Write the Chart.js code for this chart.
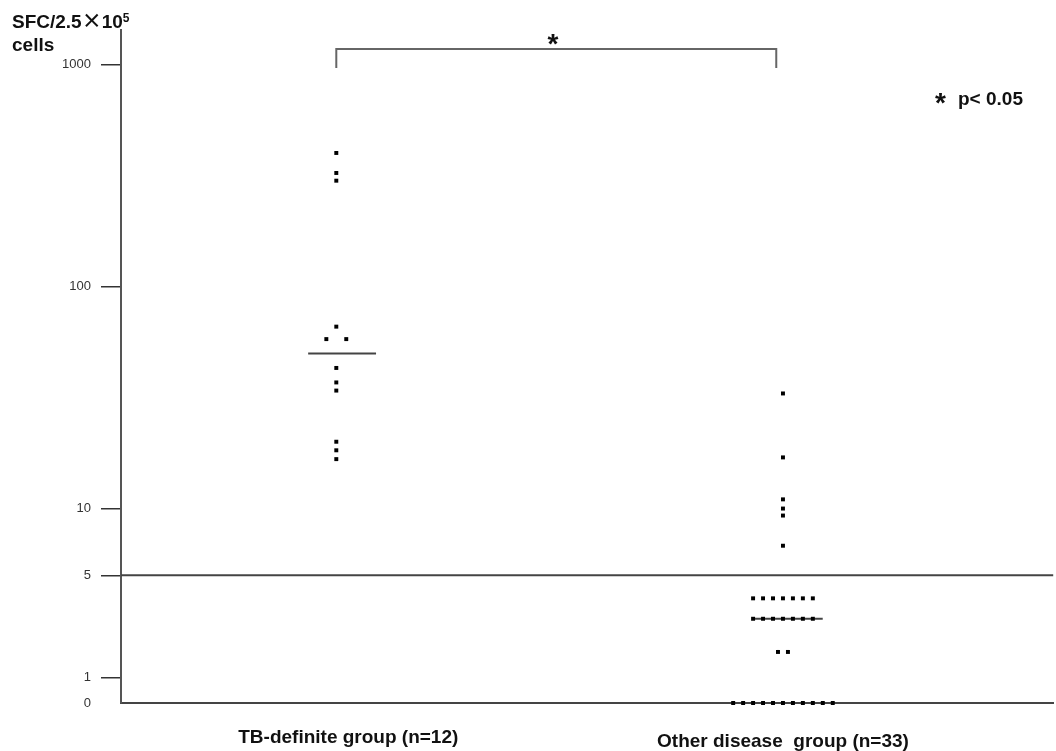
<!DOCTYPE html>
<html>
<head>
<meta charset="utf-8">
<script src="https://cdn.jsdelivr.net/npm/chart.js@4.4.1/dist/chart.umd.min.js"></script>
<style>
  html, body { margin: 0; padding: 0; background: #fff; }
  #wrap { width: 1056px; height: 751px; }
</style>
</head>
<body>
<div id="wrap"><canvas id="dot-chart" width="1056" height="751"></canvas></div>
<script>
// groups and values (SFC per 2.5x10^5 cells)
const groups = ['TB-definite group (n=12)', 'Other disease  group (n=33)'];
const tbValues = [400, 325, 300, 66, 58, 58, 43, 37, 34, 20, 18.3, 16.7];
const otherValues = [33, 17, 11, 10, 9.3, 6.8,
    4.1, 4.1, 4.1, 4.1, 4.1, 4.1, 4.1,
    3.3, 3.3, 3.3, 3.3, 3.3, 3.3, 3.3,
    2, 2,
    0, 0, 0, 0, 0, 0, 0, 0, 0, 0, 0];
const medians = [50, 3.3];
const tickValues = [0, 1, 5, 10, 100, 1000];
const tickLabels = ['0', '1', '5', '10', '100', '1000'];

// axis is log above 5, linear below it (so 0 can be shown)
const LIN_SLOPE = 0.115;
function toAxis(v) {
    return v >= 5 ? Math.log10(v) : Math.log10(5) - (5 - v) * LIN_SLOPE;
}

// equal values are spread side by side around the group position
function spread(values, xPos, step) {
    const counts = {};
    values.forEach(v => counts[v] = (counts[v] || 0) + 1);
    const seen = {};
    return values.map(v => {
        const k = seen[v] || 0;
        seen[v] = k + 1;
        return { x: xPos + (k - (counts[v] - 1) / 2) * step, y: toAxis(v) };
    });
}

function medianLine(i) {
    const c = i + 1 + 0.013;
    return [{ x: c - 0.076, y: toAxis(medians[i]) }, { x: c + 0.076, y: toAxis(medians[i]) }];
}

const dotStyle = {
    pointStyle: 'rect',
    pointRadius: 2.8,
    pointHoverRadius: 2.8,
    backgroundColor: '#000',
    borderWidth: 0,
    showLine: false,
    clip: false
};

const lineStyle = {
    showLine: true,
    borderColor: '#444',
    borderWidth: 2,
    pointRadius: 0,
    clip: false
};

const extras = {
    id: 'extras',
    afterDraw(chart) {
        const ctx = chart.ctx;
        const xs = chart.scales.x;
        const ys = chart.scales.y;
        const area = chart.chartArea;
        ctx.save();

        // cut-off line at 5
        const y5 = ys.getPixelForValue(toAxis(5));
        ctx.strokeStyle = '#444';
        ctx.lineWidth = 2;
        ctx.beginPath();
        ctx.moveTo(area.left, y5);
        ctx.lineTo(area.right, y5);
        ctx.stroke();

        // significance bracket
        const bx1 = xs.getPixelForValue(1);
        const bx2 = xs.getPixelForValue(1.985);
        ctx.strokeStyle = '#666';
        ctx.beginPath();
        ctx.moveTo(bx1, 68);
        ctx.lineTo(bx1, 49);
        ctx.lineTo(bx2, 49);
        ctx.lineTo(bx2, 68);
        ctx.stroke();

        ctx.fillStyle = '#111';
        ctx.textBaseline = 'alphabetic';
        ctx.textAlign = 'center';
        ctx.font = 'bold 28px "Liberation Sans", Arial, sans-serif';
        ctx.fillText('*', (bx1 + bx2) / 2 + (553 - (bx1 + bx2) / 2), 53);

        ctx.textAlign = 'left';
        ctx.fillText('*', 935, 112);
        ctx.font = 'bold 19px "Liberation Sans", Arial, sans-serif';
        ctx.fillText('p< 0.05', 958, 105);

        // y axis title
        let x = 12;
        ctx.font = 'bold 19px "Liberation Sans", Arial, sans-serif';
        ctx.fillText('SFC/2.5', x, 28);
        x += ctx.measureText('SFC/2.5').width;
        ctx.font = 'bold 20px "Noto Sans CJK JP", sans-serif';
        ctx.fillText('\u00d7', x, 28);
        x += ctx.measureText('\u00d7').width;
        ctx.font = 'bold 19px "Liberation Sans", Arial, sans-serif';
        ctx.fillText('10', x, 28);
        x += ctx.measureText('10').width;
        ctx.font = 'bold 12px "Liberation Sans", Arial, sans-serif';
        ctx.fillText('5', x, 22);
        ctx.font = 'bold 19px "Liberation Sans", Arial, sans-serif';
        ctx.fillText('cells', 12, 51);

        // group labels
        ctx.textAlign = 'center';
        ctx.fillText(groups[0], xs.getPixelForValue(1) + 12, 743);
        ctx.fillText(groups[1], xs.getPixelForValue(2), 747);
        ctx.restore();
    }
};

const configDots = {
    type: 'scatter',
    data: {
        datasets: [
            { label: groups[0], data: spread(tbValues, 1, 0.0446), ...dotStyle },
            { label: groups[1], data: spread(otherValues, 2, 0.0223), ...dotStyle },
            { label: 'median TB', data: medianLine(0), ...lineStyle },
            { label: 'median other', data: medianLine(1), ...lineStyle }
        ]
    },
    options: {
        responsive: false,
        animation: false,
        devicePixelRatio: 1,
        layout: { padding: { top: 30, left: 0, right: 0, bottom: 0 } },
        plugins: {
            legend: { display: false },
            tooltip: { enabled: false }
        },
        scales: {
            x: {
                type: 'linear',
                min: 0.518,
                max: 2.605,
                ticks: { display: false },
                grid: { display: false, drawTicks: false },
                border: { display: true, color: '#444', width: 2 },
                afterFit: s => { s.height = 48; }
            },
            y: {
                type: 'linear',
                min: toAxis(0),
                max: 3.156,
                afterBuildTicks: s => { s.ticks = tickValues.map(v => ({ value: toAxis(v) })); },
                ticks: {
                    callback: (v, i) => tickLabels[i],
                    autoSkip: false,
                    padding: 10,
                    color: '#333',
                    font: { family: '"Liberation Sans", Arial, sans-serif', size: 13 }
                },
                grid: {
                    drawOnChartArea: false,
                    tickLength: 20,
                    lineWidth: 1.5,
                    color: c => c.index === 0 ? 'rgba(0,0,0,0)' : '#333'
                },
                border: { color: '#555', width: 2 },
                afterFit: s => { s.width = 121; }
            }
        }
    },
    plugins: [extras]
};

const chartDots = new Chart(document.getElementById('dot-chart').getContext('2d'), configDots);
</script>
</body>
</html>
